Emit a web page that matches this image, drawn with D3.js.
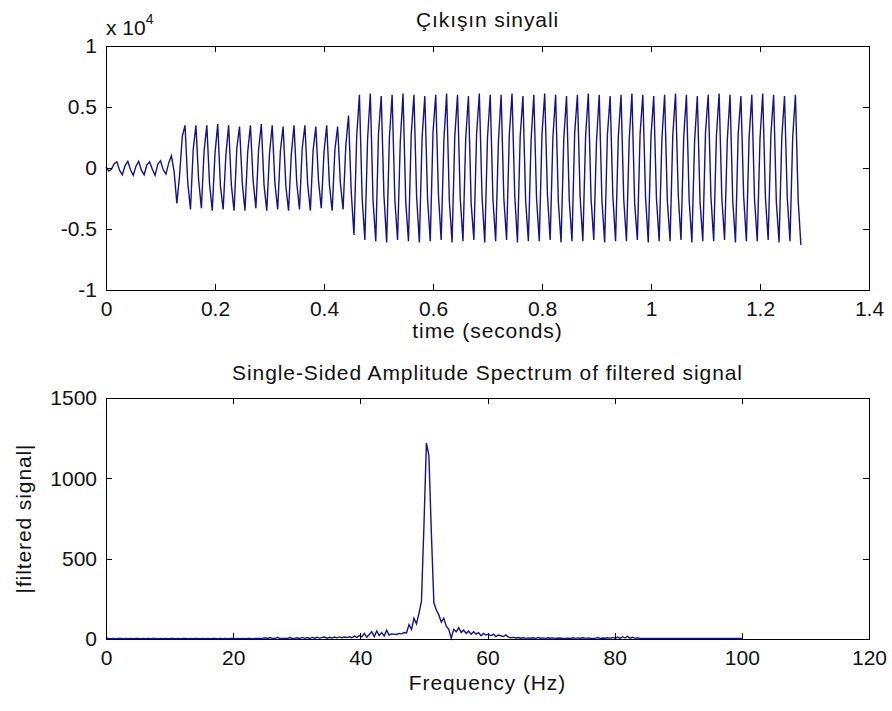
<!DOCTYPE html>
<html>
<head>
<meta charset="utf-8">
<script src="https://cdn.jsdelivr.net/npm/d3@7"></script>
<style>
  body { margin: 0; background: #fff; }
  svg { display: block; font-family: "Liberation Sans", Arial, sans-serif; }
  .trace { fill: none; stroke: #13138a; stroke-width: 1.4; }
  .frame { fill: none; stroke: #000; stroke-width: 1; shape-rendering: crispEdges; }
  .tick line { stroke: #000; shape-rendering: crispEdges; }
  .tick text { font-size: 21px; fill: #111; }
  .domain { display: none; }
  .label { font-size: 21px; fill: #111; text-anchor: middle; letter-spacing: 0.9px; }
</style>
</head>
<body>
<svg width="892" height="711"></svg>
<script>
const sampleRate = 200;

const signalIntro = [
    100, -250, -100, 350, 500, -200, -550, 200, 550, -150, -600, 150,
    550, -200, -550, 250, 500, -100, -600, 300, 600, -150, -500, 400,
    1000, -300, -2900
];

const signalLow = [
    -600,
    2600, 3500, -1200, -3400,  1500, 3500, -1000, -3300,  1400, 3500, -1300, -3500,
    1200, 3600, -1500, -3400,  1100, 3500, -1400, -3500,  1600, 3400, -1200, -3500,
    1300, 3500, -1100, -3300,  1500, 3600, -1400, -3500,  1200, 3500, -1300, -3400,
    1400, 3400, -1500, -3500,  1100, 3500, -1200, -3400,  1600, 3500, -1300, -3500,
    1400, 3400, -1100, -3300,  1300, 3500, -1400, -3500,  1500, 3400, -1200, -3400,
    1800, 4300, -2000, -5500
];

const signalHigh = [
    2600, 6000, -2500, -5900,  2400, 6100, -2700, -6000,  2800, 5900, -2300, -6100,
    2500, 6000, -2600, -5900,  2200, 6100, -2800, -6000,  2700, 6000, -2400, -6100,
    2500, 5900, -2500, -6000,  2900, 6000, -2200, -5900,  2300, 6100, -2700, -6100,
    2600, 6000, -2500, -6000,  2400, 5900, -2900, -5900,  2800, 6100, -2400, -6100,
    2500, 6000, -2600, -6000,  2100, 6000, -2500, -5900,  2700, 6100, -2300, -6100,
    2600, 5900, -2700, -6000,  2300, 6000, -2500, -6000,  2800, 6100, -2200, -5900,
    2500, 6000, -2800, -6100,  2400, 5900, -2600, -6000,  2900, 6000, -2400, -6000,
    2600, 6100, -2500, -5900,  2200, 6000, -2700, -6100,  2700, 5900, -2300, -6000,
    2500, 6000, -2600, -6000,  2300, 6100, -2900, -5900,  2800, 6000, -2400, -6100,
    2600, 5900, -2500, -6000,  2400, 6000, -2700, -6000,  2700, 6100, -2200, -5900,
    2500, 6000, -2600, -6100,  2200, 5900, -2800, -6000,  2900, 6000, -2400, -6000,
    2600, 6100, -2500, -5900,  2300, 6000, -2700, -6100,  2800, 5900, -2300, -6000,
    2500, 6000, -2600, -6000,  2400, 6100, -2500, -5900,  2700, 6000, -2800, -6100,
    2500, 5900, -2400, -6000,  2500, 6000, -2600, -6300
];

const signal = signalIntro.concat(signalLow, signalHigh);

// single-sided spectrum, bins from 0 to 100 Hz
const nyquist = 100;
const spectrum = [
    6, 3, 2, 3, 2, 3, 3, 2, 3, 2, 3, 2, 3, 3, 2, 3,
    2, 3, 2, 3, 3, 2, 3, 2, 3, 2, 3, 3, 2, 3, 2, 3,
    3, 2, 3, 2, 3, 3, 2, 3, 2, 3, 2, 3, 3, 2, 3, 2,
    3, 2, 3, 3, 2, 3, 2, 3, 2, 3, 3, 2, 3, 4, 3, 4,
    8, 3, 9, 4, 3, 10, 3, 4, 3, 3, 9, 3, 4, 8, 3, 10,
    4, 9, 3, 10, 5, 11, 4, 10, 12, 5, 11, 6, 12, 7, 13, 8,
    12, 9, 14, 8, 18, 10, 22, 14, 35, 12, 28, 45, 15, 50, 22, 40,
    18, 55, 25, 32, 30, 28, 35, 32, 40, 38, 90, 60, 130, 95, 160, 234,
    700, 1220, 1140, 660, 225, 180, 150, 105, 130, 80, 60, 5, 60, 45, 70, 40,
    55, 35, 50, 30, 45, 30, 40, 20, 35, 25, 30, 20, 30, 15, 25, 20,
    15, 25, 12, 8, 10, 6, 9, 5, 8, 4, 7, 5, 8, 4, 9, 5,
    7, 4, 8, 5, 7, 4, 6, 5, 4, 4, 5, 4, 8, 4, 7, 5,
    8, 4, 7, 5, 4, 4, 9, 4, 6, 5, 8, 4, 10, 5, 12, 4,
    14, 6, 16, 5, 11, 4, 8, 4, 3, 4, 3, 3, 4, 3, 3, 4,
    3, 3, 4, 3, 3, 3, 4, 3, 3, 3, 4, 3, 3, 3, 4, 3,
    3, 3, 3, 4, 3, 3, 3, 4, 3, 3, 3, 3, 4, 3, 3, 3,
    3
];

const timeTicks = [0, 0.2, 0.4, 0.6, 0.8, 1, 1.2, 1.4];
const ampTicks = [-1, -0.5, 0, 0.5, 1];   // x 10^4
const freqTicks = [0, 20, 40, 60, 80, 100, 120];
const specTicks = [0, 500, 1000, 1500];

const svg = d3.select("svg");

function drawFrame(g, x, y, xTicks, yTicks, yFmt) {
    const [x0, x1] = x.range();
    const [y0, y1] = y.range();

    g.append("g")
        .attr("transform", `translate(0,${y0})`)
        .call(d3.axisBottom(x).tickValues(xTicks).tickSizeInner(-6).tickSizeOuter(0)
            .tickPadding(11).tickFormat((d) => String(d)));
    g.append("g")
        .attr("transform", `translate(0,${y1})`)
        .call(d3.axisTop(x).tickValues(xTicks).tickSizeInner(-6).tickSizeOuter(0).tickFormat(""));
    g.append("g")
        .attr("transform", `translate(${x0},0)`)
        .call(d3.axisLeft(y).tickValues(yTicks).tickSizeInner(-6).tickSizeOuter(0)
            .tickPadding(9).tickFormat(yFmt));
    g.append("g")
        .attr("transform", `translate(${x1},0)`)
        .call(d3.axisRight(y).tickValues(yTicks).tickSizeInner(-6).tickSizeOuter(0).tickFormat(""));

    g.append("rect")
        .attr("class", "frame")
        .attr("x", x0 + 0.5)
        .attr("y", y1 + 0.5)
        .attr("width", x1 - x0)
        .attr("height", y0 - y1);
}

// ---- upper panel: time signal ----
const xTime = d3.scaleLinear().domain([0, 1.4]).range([106, 869]);
const yAmp = d3.scaleLinear().domain([-1e4, 1e4]).range([290, 46]);

const upper = svg.append("g");

upper.append("path")
    .attr("class", "trace")
    .attr("d", d3.line()
        .x((d, i) => xTime(i / sampleRate))
        .y((d) => yAmp(d))(signal));

drawFrame(upper, xTime, yAmp, timeTicks, ampTicks.map((v) => v * 1e4), (d) => String(d / 1e4));

upper.append("text").attr("class", "label").attr("x", 487.5).attr("y", 27).text("Çıkışın sinyali");
upper.append("text").attr("class", "label").attr("x", 487.5).attr("y", 338).text("time (seconds)");

const expLabel = upper.append("text")
    .attr("x", 106)
    .attr("y", 35)
    .style("font-size", "21px")
    .style("fill", "#111");
expLabel.append("tspan").text("x 10");
expLabel.append("tspan").attr("dy", -11).style("font-size", "14px").text("4");

// ---- lower panel: amplitude spectrum ----
const xFreq = d3.scaleLinear().domain([0, 120]).range([106, 869]);
const ySpec = d3.scaleLinear().domain([0, 1500]).range([639, 398]);

const lower = svg.append("g");

lower.append("path")
    .attr("class", "trace")
    .attr("d", d3.line()
        .x((d, i) => xFreq(i * nyquist / (spectrum.length - 1)))
        .y((d) => ySpec(d))(spectrum));

drawFrame(lower, xFreq, ySpec, freqTicks, specTicks, (d) => String(d));

lower.append("text").attr("class", "label").attr("x", 487.5).attr("y", 380)
    .text("Single-Sided Amplitude Spectrum of filtered signal");
lower.append("text").attr("class", "label").attr("x", 487.5).attr("y", 690).text("Frequency (Hz)");
lower.append("text").attr("class", "label")
    .attr("transform", "translate(31,518.5) rotate(-90)")
    .text("|filtered signal|");
</script>
</body>
</html>
